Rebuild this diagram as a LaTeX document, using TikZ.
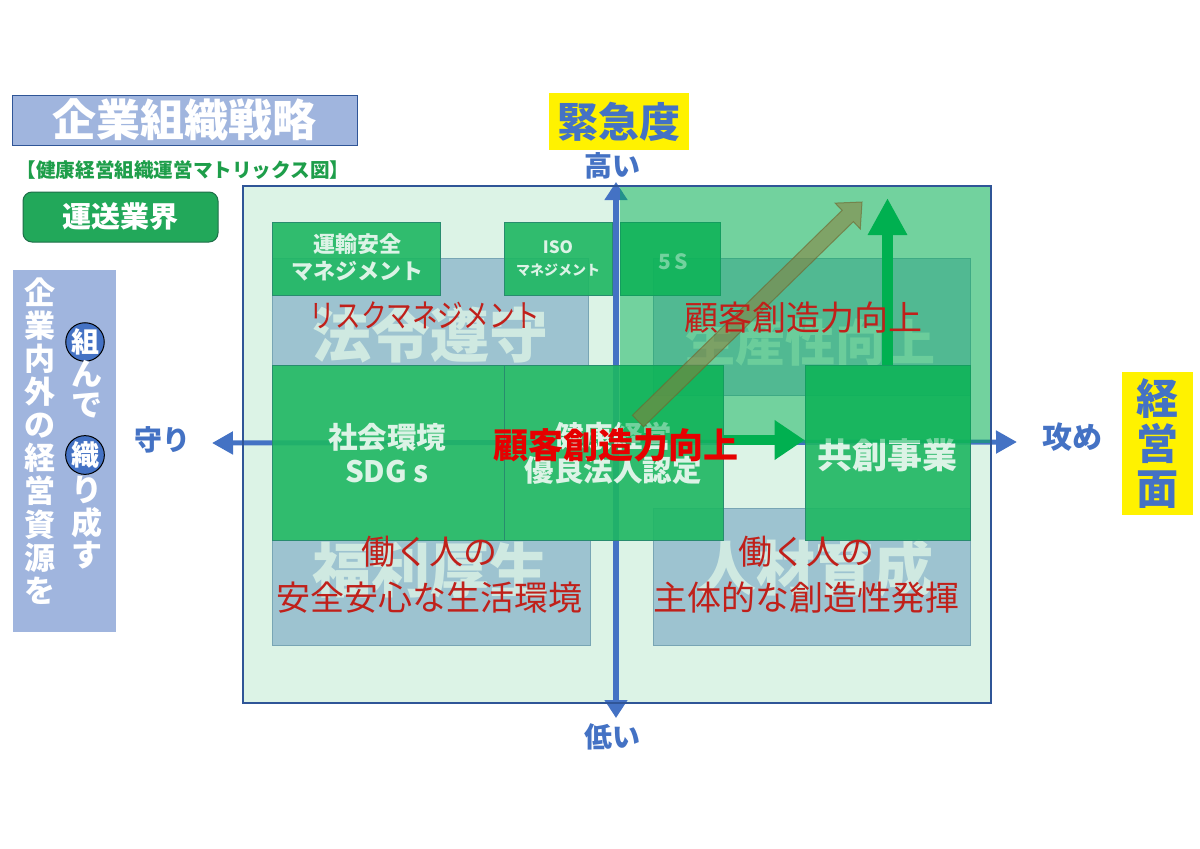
\documentclass[tikz,border=0pt]{standalone}
\usepackage{fontspec}
\setmainfont{Noto Sans CJK JP}
\newfontfamily\narrowjp[FakeStretch=0.8]{Noto Sans CJK JP}
\usetikzlibrary{arrows.meta}

\definecolor{titlebg}{RGB}{160,181,222}
\definecolor{axisblue}{RGB}{68,114,196}
\definecolor{axisdark}{RGB}{47,85,151}
\definecolor{mintbg}{RGB}{220,243,230}
\definecolor{graybox}{RGB}{157,195,208}
\definecolor{grayline}{RGB}{120,165,180}
\definecolor{boxgreen}{RGB}{30,183,98}
\definecolor{boxline}{RGB}{40,140,110}
\definecolor{hotgreen}{RGB}{0,176,80}
\definecolor{labelgreen}{RGB}{30,158,74}
\definecolor{industrygreen}{RGB}{34,168,90}
\definecolor{industryline}{RGB}{30,110,72}
\definecolor{textred}{RGB}{192,32,26}
\definecolor{hotred}{RGB}{230,0,0}
\definecolor{olivearrow}{RGB}{139,125,58}

\begin{document}
\begin{tikzpicture}[x=1pt, y=-1pt,
  every node/.style={inner sep=0pt},
  bluetxt/.style={text=axisblue, font=\bfseries\fontsize{28}{30}\selectfont},
  areabox/.style={draw=grayline, fill=graybox, line width=1pt},
  areatxt/.style={text=mintbg, text opacity=0.8, font=\bfseries\fontsize{59}{60}\selectfont},
  greenbox/.style={draw=boxline, fill=boxgreen, fill opacity=0.9, line width=1pt},
  boxtxt/.style={text=mintbg, align=center, font=\bfseries\fontsize{29.5}{34}\selectfont},
  redtxt/.style={text=textred, align=center, font=\fontsize{34}{46}\selectfont},
  vchar/.style={text=white, font=\bfseries\fontsize{31}{33}\selectfont},
  circchar/.style={circle, draw=black, line width=1pt, fill=axisblue, minimum size=36pt,
    text=white, font=\bfseries\fontsize{28}{29}\selectfont},
  axisline/.style={axisblue, line width=6pt},
  greenarrow/.style={hotgreen, line width=11pt}]

\useasboundingbox (0,0) rectangle (1200,849);
\fill[white] (0,0) rectangle (1200,849);

% title block
\node (title) [draw=axisdark, line width=1pt, fill=titlebg, minimum width=345pt, minimum height=50pt,
  text=white, font=\bfseries\fontsize{44}{46}\selectfont] at (184.5,120) {企業組織戦略};
\node (subtitle) [text=labelgreen, font=\bfseries\fontsize{19.6}{22}\selectfont] at (183,170)
  {【健康経営組織運営マトリックス図】};
\node (industry) [draw=industryline, line width=1pt, fill=industrygreen, rounded corners=9pt,
  minimum width=195pt, minimum height=50pt, text=white, font=\bfseries\fontsize{29}{30}\selectfont]
  at (120.5,217) {運送業界};

% side column
\node (sidebar) [fill=titlebg, minimum width=103pt, minimum height=362pt] at (64.5,451) {};
\node (sidetext) [vchar, align=center, font=\bfseries\fontsize{31}{33.1}\selectfont] at (40,441)
  {企\\業\\内\\外\\の\\経\\営\\資\\源\\を};
\node (kumi) [circchar] at (85,342) {組};
\node (ori) [circchar] at (85,455) {織};
\foreach \ch/\yy in {ん/374, で/406, り/490, 成/523, す/555}
  \node (col\yy) [vchar] at (87,\yy) {\ch};

% axis labels
\node (urgency) [fill=yellow, minimum width=140pt, minimum height=57pt, text=axisblue,
  font=\bfseries\fontsize{41}{42}\selectfont] at (619,121.5) {緊急度};
\node (high) [bluetxt] at (612,166) {高い};
\node (low) [bluetxt] at (612,737) {低い};
\node (defend) [bluetxt] at (162,440) {守り};
\node (attack) [bluetxt, font=\bfseries\fontsize{30}{32}\selectfont] at (1072,437) {攻め};
\node (mgmt) [fill=yellow, minimum width=71pt, minimum height=143pt, align=center, text=axisblue,
  font=\bfseries\fontsize{42}{45}\selectfont] at (1157.5,443.5) {経\\営\\面};

% matrix
\node (grid) [fill=mintbg, minimum width=748pt, minimum height=517pt] at (617,444.5) {};

\coordinate (ytop) at (616,182);
\coordinate (ybot) at (616,718);
\coordinate (xleft) at (212,443);
\coordinate (xright) at (1017,442);
\draw[axisline, {Triangle[length=18pt,width=22pt]}-{Triangle[length=18pt,width=22pt]}] (ybot) -- (ytop);
\draw[axisline, line width=5pt, {Triangle[length=21pt,width=22pt]}-{Triangle[length=21pt,width=22pt]}] (xleft) -- (xright);

% areas
\node (lawbox) [areabox, minimum width=316pt, minimum height=107pt] at (430,311.5) {};
\node (lawtxt) [areatxt] at (430,335) {法令遵守};
\node (prodbox) [areabox, minimum width=317pt, minimum height=137pt] at (811.5,326.5) {};
\node (prodtxt) [areatxt, font=\bfseries\fontsize{50}{52}\selectfont] at (810,342) {生産性向上};
\node (welfbox) [areabox, minimum width=318pt, minimum height=105pt] at (431,592.5) {};
\node (welftxt) [areatxt] at (430,570) {福利厚生};
\node (talentbox) [areabox, minimum width=317pt, minimum height=137pt] at (811.5,576.5) {};
\node (talenttxt) [areatxt] at (815,568) {人材育成};

% activities
\node (transport) [greenbox, minimum width=168pt, minimum height=73pt] at (356,258.5) {};
\node (transporttxt) [boxtxt, font=\bfseries\fontsize{22}{27}\selectfont] at (357,257) {運輸安全\\マネジメント};
\node (iso) [greenbox, minimum width=108pt, minimum height=73pt] at (558,258.5) {};
\node (isotxt) [boxtxt, font=\bfseries\fontsize{14}{22}\selectfont] at (558,259)
  {{\fontsize{17}{22}\selectfont ISO}\\マネジメント};
\node (fives) [greenbox, minimum width=100pt, minimum height=73pt] at (670,258.5) {};
\node (fivestxt) [boxtxt, font=\bfseries\fontsize{21}{24}\selectfont] at (673,262) {5\,S};
\node (social) [greenbox, minimum width=232pt, minimum height=175pt] at (388,452.5) {};
\node (socialtxt) [boxtxt] at (387,453) {社会環境\\SDG s};
\node (health) [greenbox, minimum width=219pt, minimum height=175pt] at (613.5,452.5) {};
\node (healthtxt) [boxtxt] at (613,453) {健康経営\\優良法人認定};
\node (cocreate) [greenbox, minimum width=165pt, minimum height=175pt] at (887.5,452.5) {};
\node (cocreatetxt) [boxtxt, font=\bfseries\fontsize{35}{36}\selectfont] at (887,455) {共創事業};

\coordinate (uptip) at (887.5,198);
\coordinate (hlevel) at (760,440);
\draw[greenarrow, -{Triangle[length=37pt,width=37pt]}] (cocreate.north -| uptip) -- (uptip);
\draw[greenarrow, line width=10pt, -{Triangle[length=30pt,width=38pt]}] (health.east |- hlevel) -- (cocreate.west |- hlevel);

% upper right quadrant
\fill[hotgreen, opacity=0.48] (620,186) rectangle (991,443);

% growth arrow
\filldraw[fill=olivearrow, fill opacity=0.55, draw=olivearrow!80!black, draw opacity=0.6, line width=1pt]
  (632.4,415.3) -- (842.1,210.3) -- (835.1,203.1) -- (862,202) -- (860.3,228.9)
  -- (853.3,221.7) -- (643.6,426.7) -- cycle;

\draw[axisdark, line width=1.5pt] (grid.north west) rectangle (grid.south east);

% red notes
\node (riskmgmt) [redtxt, font=\narrowjp\fontsize{32}{34}\selectfont] at (425,315) {リスクマネジメント};
\node (creativity) [redtxt] at (803,318) {顧客創造力向上};
\node (creativitymid) [redtxt, text=hotred, font=\bfseries\fontsize{35}{36}\selectfont] at (616,445) {顧客創造力向上};
\node (safety) [redtxt] at (429,575) {働く人の\\安全安心な生活環境};
\node (initiative) [redtxt] at (806,575) {働く人の\\主体的な創造性発揮};
\end{tikzpicture}
\end{document}
